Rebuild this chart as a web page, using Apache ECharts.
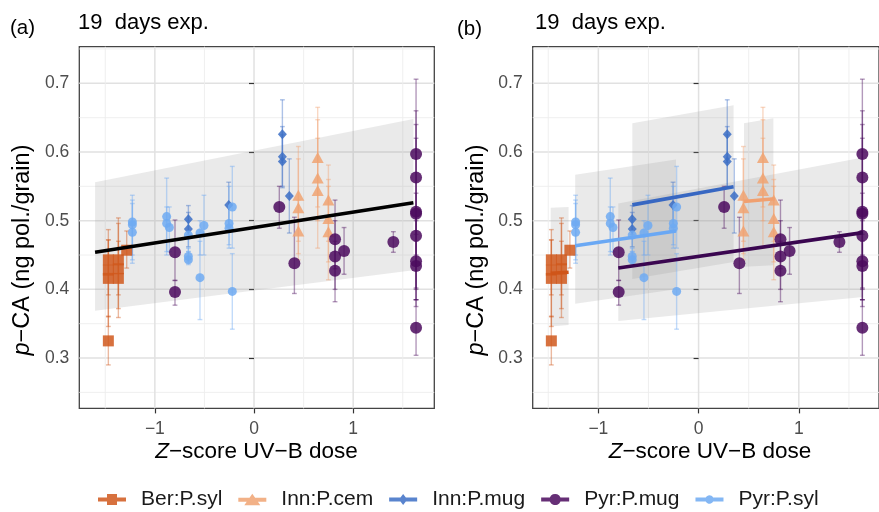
<!DOCTYPE html>
<html><head><meta charset="utf-8">
<script src="https://cdn.jsdelivr.net/npm/echarts@6/dist/echarts.min.js"></script>
<style>html,body{margin:0;padding:0;background:#fff}#c{width:879px;height:512px}</style>
</head><body><div id="c"></div>
<script>
// ---------- DATA ----------
const groups = ['Ber:P.syl','Inn:P.cem','Inn:P.mug','Pyr:P.mug','Pyr:P.syl'];
// points: [z-score UV-B, p-CA, lower, upper]
const berPsyl = [
 [-1.469,0.325,0.290,0.361],[-1.469,0.416,0.346,0.472],[-1.469,0.428,0.360,0.487],[-1.469,0.443,0.392,0.472],
 [-1.368,0.416,0.372,0.470],[-1.368,0.430,0.359,0.496],[-1.368,0.443,0.392,0.504],[-1.284,0.457,0.431,0.485]
];
const innPcem = [
 [0.447,0.537,0.470,0.608],[0.447,0.519,0.452,0.590],[0.447,0.485,0.443,0.530],
 [0.642,0.592,0.520,0.665],[0.642,0.562,0.500,0.647],[0.642,0.544,0.460,0.620],
 [0.750,0.530,0.470,0.581],[0.750,0.503,0.440,0.560],[0.750,0.484,0.414,0.550]
];
const innPmug = [
 [-0.662,0.502,0.480,0.522],[-0.662,0.488,0.462,0.512],[-0.255,0.523,0.490,0.556],
 [0.286,0.626,0.585,0.676],[0.286,0.593,0.550,0.637],[0.286,0.586,0.548,0.625],[0.356,0.536,0.482,0.590]
];
const pyrPmug = [
 [-0.797,0.454,0.413,0.501],[-0.797,0.396,0.377,0.413],[0.255,0.520,0.489,0.550],[0.407,0.438,0.394,0.505],
 [0.817,0.473,0.430,0.530],[0.817,0.448,0.400,0.500],[0.817,0.427,0.382,0.470],[0.908,0.456,0.422,0.490],
 [1.405,0.469,0.454,0.484],
 [1.634,0.597,0.480,0.706],[1.634,0.563,0.450,0.660],[1.634,0.513,0.385,0.640],[1.634,0.510,0.400,0.620],
 [1.634,0.478,0.375,0.540],[1.634,0.441,0.385,0.500],[1.634,0.434,0.402,0.470],[1.634,0.344,0.304,0.385]
];
const pyrPsyl = [
 [-1.227,0.498,0.450,0.537],[-1.227,0.494,0.443,0.530],[-1.227,0.483,0.438,0.525],
 [-0.881,0.506,0.455,0.562],[-0.881,0.496,0.450,0.520],[-0.854,0.490,0.455,0.520],
 [-0.662,0.479,0.455,0.500],[-0.662,0.448,0.440,0.460],[-0.662,0.443,0.436,0.455],
 [-0.545,0.482,0.450,0.500],[-0.545,0.417,0.356,0.470],[-0.505,0.493,0.450,0.537],
 [-0.252,0.496,0.465,0.550],[-0.252,0.489,0.460,0.520],[-0.219,0.520,0.460,0.579],[-0.219,0.397,0.342,0.452]
];
// panel (a): pooled fit and its confidence band
const fitA = [[-1.603,0.454],[1.607,0.526]];
const ribbonA = [[-1.603,0.556,0.369,1.607,0.648,0.428]]; // [x1, upper1, lower1, x2, upper2, lower2]
// panel (b): per-group fits [x1,y1,x2,y2] and bands, in groups order
const fitsB = [
 [-1.475,0.4235,-1.297,0.425],
 [0.450,0.528,0.760,0.532],
 [-0.661,0.523,0.349,0.5495],
 [-0.801,0.431,1.640,0.4826],
 [-1.231,0.4635,-0.225,0.485]
];
const ribbonsB = [
 [-1.475,0.519,0.346,-1.297,0.520,0.348],
 [0.453,0.642,0.433,0.746,0.649,0.435],
 [-0.661,0.642,0.415,0.349,0.668,0.440],
 [-0.801,0.525,0.354,1.640,0.592,0.389],
 [-1.231,0.567,0.379,-0.225,0.589,0.400]
];
const xTicks = [-1,0,1];
const xMinor = [-1.5,-0.5,0.5,1.5];
const yTicks = [0.3,0.4,0.5,0.6,0.7];
const yMinor = [0.25,0.35,0.45,0.55,0.65,0.75];

// ---------- STYLE ----------
const groupData = [berPsyl, innPcem, innPmug, pyrPmug, pyrPsyl];
const colors = ['#d0581c','#f0a372','#3c6ec6','#4b0b5e','#6eaaf2'];
const lineColors = ['#cf5519','#f0a070','#3767c2','#3a0650','#6aa8f4'];
const symbols = ['rect','triangle','diamond','circle','circle'];
const sizes = [11,[12,11],[9,10],12,9];
const FF = 'Liberation Sans, Helvetica, Arial, sans-serif';
const icons = [
 'path://M0,4H9V0.5H19V4H28V8H19V11.5H9V8H0Z',
 'path://M0,4H11.2L14,0L16.8,4H28V8H19.6L22,11.5H6L8.4,8H0Z',
 'path://M0,4H11.3L14,0.5L16.7,4H28V8H16.7L14,11.5L11.3,8H0Z',
 'path://M0,4H8.7A5.7,5.7 0 0 1 19.3,4H28V8H19.3A5.7,5.7 0 0 1 8.7,8H0Z',
 'path://M0,4H10.3A4.2,4.2 0 0 1 17.7,4H28V8H17.7A4.2,4.2 0 0 1 10.3,8H0Z'
];

const grids = [
 {left:79.3, top:46.7, width:355, height:361.7, xmin:-1.762, xmax:1.818},
 {left:532.7, top:46.7, width:353.5, height:361.7, xmin:-1.655, xmax:1.800}
];
const YMIN = 0.2267, YMAX = 0.7533;

const gridLineData = [];
yTicks.forEach(v=>gridLineData.push([0,v,1]));
yMinor.forEach(v=>gridLineData.push([0,v,0]));
xTicks.forEach(v=>gridLineData.push([1,v,1]));
xMinor.forEach(v=>gridLineData.push([1,v,0]));

function gridRender(params, api){
  const cs = params.coordSys;
  const dir = api.value(0), v = api.value(1), major = api.value(2);
  const st = {stroke: major ? '#e1e1e1' : '#ededed', lineWidth: major ? 1.5 : 0.9};
  if (dir === 0) {
    const y = api.coord([0, v])[1];
    return {type:'line', shape:{x1:cs.x, y1:y, x2:cs.x+cs.width, y2:y}, style:st};
  }
  const x = api.coord([v, 0.5])[0];
  return {type:'line', shape:{x1:x, y1:cs.y, x2:x, y2:cs.y+cs.height}, style:st};
}
function ribRender(params, api){
  const a = api.coord([api.value(0), api.value(1)]);
  const b = api.coord([api.value(3), api.value(4)]);
  const c = api.coord([api.value(3), api.value(5)]);
  const d = api.coord([api.value(0), api.value(2)]);
  return {type:'polygon', shape:{points:[a,b,c,d]}, style:{fill:'rgba(150,150,150,0.2)'}};
}
function errRenderer(color){
  return function(params, api){
    const x = api.value(0), lo = api.value(2), hi = api.value(3);
    const p1 = api.coord([x, hi]), p2 = api.coord([x, lo]);
    const cw = 2.4;
    const st = {stroke: color, lineWidth: 1.4, opacity: 0.42};
    return {type:'group', children:[
      {type:'line', shape:{x1:p1[0], y1:p1[1], x2:p2[0], y2:p2[1]}, style:st},
      {type:'line', shape:{x1:p1[0]-cw, y1:p1[1], x2:p1[0]+cw, y2:p1[1]}, style:st},
      {type:'line', shape:{x1:p2[0]-cw, y1:p2[1], x2:p2[0]+cw, y2:p2[1]}, style:st}
    ]};
  };
}

const xAxes = grids.map((g,i)=>({
  type:'value', gridIndex:i, min:g.xmin, max:g.xmax, splitNumber:3,
  axisLine:{show:false}, splitLine:{show:false},
  axisTick:{show:true, length:5, lineStyle:{color:'#333', width:1.2}, customValues:xTicks},
  axisLabel:{color:'#4d4d4d', fontSize:17.5, fontFamily:FF, margin:12, customValues:xTicks,
    formatter:v=> v<0 ? '\u2212'+Math.abs(v) : String(v)}
}));
const yAxes = grids.map((g,i)=>({
  type:'value', gridIndex:i, min:YMIN, max:YMAX, splitNumber:5,
  axisLine:{show:false}, splitLine:{show:false},
  axisTick:{show:true, length:5, lineStyle:{color:'#333', width:1.2}, customValues:yTicks},
  axisLabel:{color:'#4d4d4d', fontSize:17.5, fontFamily:FF, margin:10, customValues:yTicks,
    formatter:v=> v.toFixed(1)}
}));

const series = [];
[0,1].forEach(p=>{
  series.push({type:'custom', xAxisIndex:p, yAxisIndex:p, z:0, silent:true, renderItem:gridRender, data:gridLineData});
});
series.push({type:'custom', xAxisIndex:0, yAxisIndex:0, z:1, silent:true, renderItem:ribRender,
  encode:{x:[0,3], y:[1,2,4,5]}, data:ribbonA});
series.push({type:'custom', xAxisIndex:1, yAxisIndex:1, z:1, silent:true, renderItem:ribRender,
  encode:{x:[0,3], y:[1,2,4,5]}, data:ribbonsB});
[0,1].forEach(p=>{
  groupData.forEach((d,gi)=>{
    series.push({type:'custom', xAxisIndex:p, yAxisIndex:p, z:2, silent:true, renderItem:errRenderer(colors[gi]),
      encode:{x:0, y:[2,3]}, data:d});
  });
  groupData.forEach((d,gi)=>{
    series.push({type:'scatter', name:groups[gi], xAxisIndex:p, yAxisIndex:p, z:3,
      symbol:symbols[gi], symbolSize:sizes[gi], encode:{x:0, y:1},
      itemStyle:{color:colors[gi], opacity:0.85}, data:d});
  });
});
series.push({type:'line', xAxisIndex:0, yAxisIndex:0, z:4, symbol:'none', silent:true,
  lineStyle:{color:'#000', width:3.6}, data:fitA});
fitsB.forEach((f,gi)=>{
  series.push({type:'line', xAxisIndex:1, yAxisIndex:1, z:4, symbol:'none', silent:true,
    lineStyle:{color:lineColors[gi], width:3.6}, data:[[f[0],f[1]],[f[2],f[3]]]});
});

function txt(x,y,text,size,opts){
  return Object.assign({type:'text', x:x, y:y, silent:true, style:Object.assign({text:text, fill:'#000',
    fontSize:size, fontFamily:FF, align:'left', verticalAlign:'middle', rich:{i:{fontStyle:'italic', fontSize:size, fontFamily:FF}}}, opts&&opts.style||{})},
    opts&&opts.el||{});
}

const option = {
  animation:false,
  backgroundColor:'#fff',
  grid: grids.map(g=>({left:g.left, top:g.top, width:g.width, height:g.height, show:true,
    borderColor:'#444', borderWidth:1.3, backgroundColor:'transparent', containLabel:false})),
  xAxis:xAxes, yAxis:yAxes,
  legend:{left:93, top:484, itemWidth:28, itemHeight:12, itemGap:16, selectedMode:false,
    textStyle:{fontSize:21, color:'#1a1a1a', fontFamily:FF, padding:[0,0,0,10]},
    data:groups.map((g,i)=>({name:g, icon:icons[i]}))},
  graphic:[
    txt(10,28,'(a)',20.5),
    txt(78,23,'19  days exp.',22),
    txt(457,29,'(b)',20.5),
    txt(535,23,'19  days exp.',22),
    txt(22.5,250,'{i|p}\u2212CA (ng pol./grain)',23.5,{style:{align:'center'}, el:{rotation:Math.PI/2}}),
    txt(476.5,250,'{i|p}\u2212CA (ng pol./grain)',23.5,{style:{align:'center'}, el:{rotation:Math.PI/2}}),
    txt(256.5,452,'{i|Z}\u2212score UV\u2212B dose',22.5,{style:{align:'center'}}),
    txt(710,452,'{i|Z}\u2212score UV\u2212B dose',22.5,{style:{align:'center'}})
  ],
  series:series
};
const chart = echarts.init(document.getElementById('c'), null, {renderer:'canvas'});
chart.setOption(option);
</script></body></html>
